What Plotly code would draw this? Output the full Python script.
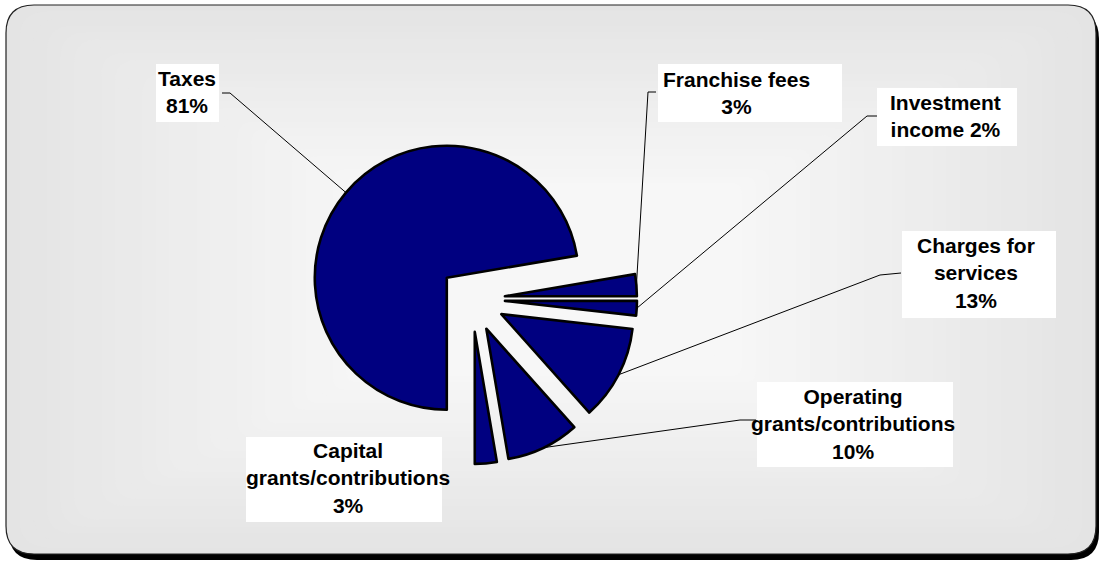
import math
import plotly.graph_objects as go

# ---- data -------------------------------------------------------------
categories = [
    "Taxes",
    "Franchise fees",
    "Investment income",
    "Charges for services",
    "Operating grants/contributions",
    "Capital grants/contributions",
]
shares = [81, 3, 2, 13, 10, 3]  # percent, as printed on the labels
# how each category name is broken over lines in its label box
label_names = [
    "Taxes",
    "Franchise fees",
    "Investment<br>income",
    "Charges for<br>services",
    "Operating<br>grants/contributions",
    "Capital<br>grants/contributions",
]
# whether the percentage goes on its own line
pct_on_new_line = [True, True, False, True, True, True]

# ---- layout constants ---------------------------------------------------
W, H = 1099, 561
NAVY = "#000080"
FONT = "Liberation Sans, Arial, sans-serif"
FONT_SIZE = 21

PIE_CX, PIE_CY = 472, 299   # pixel centre of the pie
PIE_R = 132                 # pixel radius
PULL = 0.25                 # explode every slice by a quarter radius
START = 180                 # first slice starts at 6 o'clock
half = PIE_R * (1 + PULL)

# label boxes (x0, y0, x1, y1) and text centres, in pixels
boxes = [
    (156, 64, 219, 122),
    (658, 64, 842, 122),
    (877, 88, 1017, 146),
    (902, 231, 1056, 318),
    (757, 382, 953, 467),
    (246, 437, 442, 522),
]
text_centres = [
    (187, 92),
    (736, 93),
    (945, 116),
    (976, 273),
    (853, 424),
    (348, 478),
]
# leader-line elbows near each box (None = no leader line)
elbows = [
    [(230, 93), (222, 93)],
    [(648, 92), (656, 92)],
    [(867, 116), (877, 116)],
    [(880, 275), (901, 273)],
    [(740, 420), (756, 420)],
    None,
]


def rrect(x0, y0, x1, y1, r):
    return (
        f"M{x0 + r},{y0} L{x1 - r},{y0} Q{x1},{y0} {x1},{y0 + r} "
        f"L{x1},{y1 - r} Q{x1},{y1} {x1 - r},{y1} L{x0 + r},{y1} "
        f"Q{x0},{y1} {x0},{y1 - r} L{x0},{y0 + r} Q{x0},{y0} {x0 + r},{y0} Z"
    )


fig = go.Figure()

# ---- pie ----------------------------------------------------------------
fig.add_trace(
    go.Pie(
        labels=categories,
        values=shares,
        sort=False,
        direction="clockwise",
        rotation=START,
        pull=[PULL] * len(shares),
        marker=dict(colors=[NAVY] * len(shares), line=dict(color="black", width=2.6)),
        textinfo="none",
        hoverinfo="label+value",
        showlegend=False,
        domain=dict(
            x=[(PIE_CX - half) / W, (PIE_CX + half) / W],
            y=[1 - (PIE_CY + half) / H, 1 - (PIE_CY - half) / H],
        ),
    )
)

# ---- leader lines: from each slice's outer arc to its label -------------
total = sum(shares)
lx, ly = [], []
acc = 0.0
for v, elb in zip(shares, elbows):
    a0 = START + 360 * acc / total
    a1 = a0 + 360 * v / total
    acc += v
    mid = math.radians((a0 + a1) / 2)
    ox = PIE_CX + PULL * PIE_R * math.sin(mid)
    oy = PIE_CY - PULL * PIE_R * math.cos(mid)
    px = ox + PIE_R * math.sin(mid)
    py = oy - PIE_R * math.cos(mid)
    if elb is None:
        continue
    lx += [px] + [p[0] for p in elb] + [None]
    ly += [py] + [p[1] for p in elb] + [None]

fig.add_trace(
    go.Scatter(
        x=lx, y=ly, mode="lines",
        line=dict(color="black", width=1),
        hoverinfo="skip", showlegend=False,
    )
)

# ---- background panel: shadow, path gradient, border --------------------
shapes = []
PX0, PY0, PX1, PY1, PR = 6, 5, 1096, 554, 28
shapes.append(dict(type="path", path=rrect(PX0 + 3, PY0 + 6, PX1 + 3, PY1 + 6, PR),
                   fillcolor="black", line=dict(width=0), layer="below",
                   xref="x", yref="y"))
gcx, gcy = (PX0 + PX1) / 2, (PY0 + PY1) / 2
steps = 40
c_out, c_in = 0xE4, 0xF7
for i in range(steps):
    t = i / steps
    s = 1 - t
    x0 = gcx + (PX0 - gcx) * s
    x1 = gcx + (PX1 - gcx) * s
    y0 = gcy + (PY0 - gcy) * s
    y1 = gcy + (PY1 - gcy) * s
    g = round(c_out + (c_in - c_out) * min(1.0, t * 1.5))
    col = f"rgb({g},{g},{g})"
    shapes.append(dict(type="path", path=rrect(x0, y0, x1, y1, PR * s),
                       fillcolor=col, line=dict(width=0), layer="below",
                       xref="x", yref="y"))
shapes.append(dict(type="path", path=rrect(PX0, PY0, PX1, PY1, PR),
                   fillcolor="rgba(0,0,0,0)", line=dict(color="#222222", width=1.2),
                   layer="below", xref="x", yref="y"))

# white label boxes
for (x0, y0, x1, y1) in boxes:
    shapes.append(dict(type="rect", x0=x0, y0=y0, x1=x1, y1=y1,
                       fillcolor="white", line=dict(width=0), layer="below",
                       xref="x", yref="y"))

# ---- label text ---------------------------------------------------------
annotations = []
for name, v, newline, (tx, ty) in zip(label_names, shares, pct_on_new_line, text_centres):
    sep = "<br>" if newline else " "
    annotations.append(dict(
        x=tx, y=ty, xref="x", yref="y",
        text=f"<b>{name}{sep}{v}%</b>",
        showarrow=False, align="center",
        xanchor="center", yanchor="middle",
        font=dict(family=FONT, size=FONT_SIZE, color="black"),
    ))

fig.update_layout(
    width=W, height=H,
    margin=dict(l=0, r=0, t=0, b=0),
    paper_bgcolor="white",
    plot_bgcolor="rgba(0,0,0,0)",
    xaxis=dict(range=[0, W], visible=False, fixedrange=True),
    yaxis=dict(range=[H, 0], visible=False, fixedrange=True),
    shapes=shapes,
    annotations=annotations,
    showlegend=False,
)

fig.write_html("out.html")
